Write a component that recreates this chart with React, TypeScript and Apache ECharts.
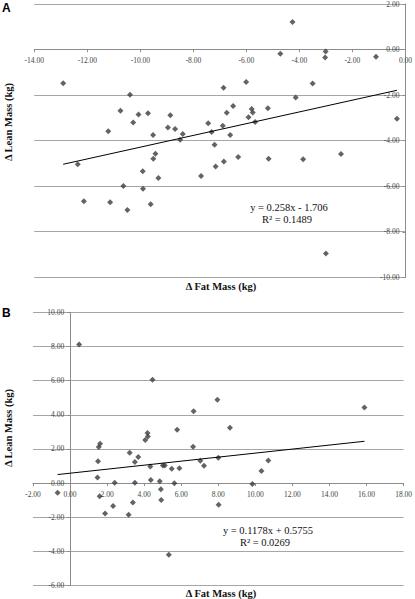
import React, { useEffect, useRef } from "react";
import * as echarts from "echarts";

// Panel A data: change in fat mass (kg) vs change in lean mass (kg)
const fatA = [
  -12.91, -10.39, -10.75, -10.07, -9.71, -8.87, -10.27, -8.96, -8.69, -11.21,
  -9.52, -8.40, -8.50, -7.44, -4.26, -4.72, -3.01, -3.03, -1.11, -6.01,
  -6.86, -3.50, -4.14, -6.50, -5.80, -6.74, -5.76, -5.19, -5.92, -5.67,
  -6.89, -7.31, -6.61, -7.20, -0.32, -12.36, -9.43, -9.51, -9.91, -9.32,
  -7.71, -10.64, -9.90, -12.13, -11.14, -10.49, -9.61, -7.16, -6.85, -6.31,
  -5.16, -3.86, -2.43, -3.00,
];
const leanA = [
  -1.48, -1.99, -2.69, -2.85, -2.80, -2.89, -3.20, -3.42, -3.49, -3.59,
  -3.75, -3.71, -3.96, -3.24, 1.21, -0.18, -0.09, -0.35, -0.32, -1.42,
  -1.68, -1.49, -2.10, -2.48, -2.61, -2.78, -2.76, -2.58, -2.97, -3.18,
  -3.35, -3.62, -3.75, -4.18, -3.04, -5.04, -4.57, -4.79, -5.34, -5.64,
  -5.55, -5.99, -6.11, -6.66, -6.70, -7.04, -6.79, -5.14, -4.92, -4.72,
  -4.79, -4.82, -4.59, -8.95,
];

// Panel B data
const fatB = [
  0.49, 4.45, 6.67, 5.78, 4.18, 4.20, 4.06, 1.62, 1.55, 6.64,
  7.95, 15.89, 8.63, 3.22, 3.68, 3.50, 1.51, 4.33, 5.01, 5.11,
  5.49, 5.90, 7.03, 7.23, 1.48, 2.41, 3.50, 4.36, 4.84, 5.63,
  -0.67, 1.60, 4.90, 4.92, 3.39, 2.32, 1.89, 3.16, 5.33, 8.00,
  10.70, 10.33, 9.84, 8.02,
];
const leanB = [
  8.12, 6.05, 4.21, 3.12, 2.93, 2.73, 2.52, 2.30, 2.11, 2.13,
  4.88, 4.43, 3.24, 1.78, 1.52, 1.23, 1.27, 0.97, 1.03, 1.03,
  0.84, 0.86, 1.31, 1.01, 0.33, 0.02, 0.02, 0.17, 0.11, -0.02,
  -0.57, -0.77, -0.36, -1.00, -1.14, -1.35, -1.78, -1.86, -4.20, 1.48,
  1.32, 0.70, -0.06, -1.27,
];

// Trend lines (from the printed regression equations)
const slopeA = 0.258;
const interceptA = -1.706;
const slopeB = 0.1178;
const interceptB = 0.5755;
const equationA = ["y = 0.258x - 1.706", "R² = 0.1489"];
const equationB = ["y = 0.1178x + 0.5755", "R² = 0.0269"];

// Axis ranges
const xRangeA = [-14, 0];
const yRangeA = [-10, 2];
const xRangeB = [-2, 18];
const yRangeB = [-6, 10];
const tickStep = 2;

const panelLabels = ["A", "B"];
const xTitle = "Δ Fat Mass (kg)";
const yTitle = "Δ Lean Mass (kg)";

const zip = (xs: number[], ys: number[]) => xs.map((x, i) => [x, ys[i]]);
const trend = (xs: number[], m: number, b: number) => {
  const lo = Math.min(...xs);
  const hi = Math.max(...xs);
  return [
    [lo, m * lo + b],
    [hi, m * hi + b],
  ];
};

const SERIF = "'Liberation Serif', 'Times New Roman', serif";
const labelStyle = { fontFamily: SERIF, fontSize: 7.5, color: "#444" };
const gridColor = "#a6a6a6";
const axisColor = "#8c8c8c";
const markerColor = "#3c3c3c";

// grid geometry
const gridA = { left: 34.3, top: 3.6, width: 372, height: 273.7 };
const gridB = { left: 33, top: 312.4, width: 372, height: 273 };

// pixel offset of the zero value inside a grid (for axis crossing at zero)
const zeroFromBottom = (g: any, r: number[]) => (g.height * (0 - r[0])) / (r[1] - r[0]);
const zeroFromLeft = (g: any, r: number[]) => (g.width * (0 - r[0])) / (r[1] - r[0]);

function makeX(gridIndex: number, range: number[], offset: number) {
  return {
    type: "value",
    gridIndex,
    position: "bottom",
    offset,
    min: range[0],
    max: range[1],
    interval: tickStep,
    axisLine: { show: true, onZero: false, lineStyle: { color: axisColor, width: 1 } },
    axisTick: { show: true, length: 3, lineStyle: { color: axisColor } },
    splitLine: { show: false },
    axisLabel: {
      ...labelStyle,
      margin: 7,
      formatter: (v: number) => v.toFixed(2),
    },
  };
}

function makeY(gridIndex: number, range: number[], position: string, offset: number, inside: boolean) {
  return {
    type: "value",
    gridIndex,
    position,
    offset,
    min: range[0],
    max: range[1],
    interval: tickStep,
    axisLine: { show: true, onZero: false, lineStyle: { color: axisColor, width: 1 } },
    axisTick: { show: true, length: 3, inside, lineStyle: { color: axisColor } },
    splitLine: { show: true, lineStyle: { color: gridColor, width: 1 } },
    axisLabel: {
      ...labelStyle,
      inside,
      margin: 6,
      formatter: (v: number) => v.toFixed(2),
    },
  };
}

export default function App() {
  const ref = useRef<HTMLDivElement>(null);

  useEffect(() => {
    if (!ref.current) return;
    const chart = echarts.init(ref.current, null, { renderer: "svg" });

    const scatterStyle = {
      type: "scatter",
      symbol: "diamond",
      symbolSize: 6,
      itemStyle: { color: markerColor },
    };
    const lineStyle = {
      type: "line",
      showSymbol: false,
      symbol: "none",
      lineStyle: { color: "#000", width: 1 },
    };

    const eqText = (x: number, y: number, text: string) => ({
      type: "text",
      x,
      y,
      style: {
        text,
        fontFamily: SERIF,
        fontSize: 10.5,
        fill: "#111",
        textAlign: "center",
        textVerticalAlign: "middle",
      },
    });
    const titleText = (x: number, y: number, text: string, rotate = false) => ({
      type: "text",
      x,
      y,
      rotation: rotate ? Math.PI / 2 : 0,
      style: {
        text,
        fontFamily: SERIF,
        fontSize: 10.5,
        fontWeight: "bold",
        fill: "#111",
        textAlign: "center",
        textVerticalAlign: "middle",
      },
    });
    const panelText = (x: number, y: number, text: string) => ({
      type: "text",
      x,
      y,
      style: {
        text,
        fontFamily: "'Liberation Sans', Arial, sans-serif",
        fontSize: 12,
        fontWeight: "bold",
        fill: "#000",
        textAlign: "left",
        textVerticalAlign: "middle",
      },
    });

    // A: x axis crosses at y=0, y axis at x=0 (right edge)
    const xOffA = -zeroFromBottom(gridA, yRangeA);
    const yOffA = -(gridA.width - zeroFromLeft(gridA, xRangeA));
    // B: x axis crosses at y=0, y axis at x=0
    const xOffB = -zeroFromBottom(gridB, yRangeB);
    const yOffB = -zeroFromLeft(gridB, xRangeB);

    chart.setOption({
      animation: false,
      backgroundColor: "#fff",
      grid: [gridA, gridB],
      xAxis: [makeX(0, xRangeA, xOffA), makeX(1, xRangeB, xOffB)],
      yAxis: [
        makeY(0, yRangeA, "right", yOffA, true),
        makeY(1, yRangeB, "left", yOffB, false),
      ],
      series: [
        { ...scatterStyle, xAxisIndex: 0, yAxisIndex: 0, data: zip(fatA, leanA) },
        { ...lineStyle, xAxisIndex: 0, yAxisIndex: 0, data: trend(fatA, slopeA, interceptA) },
        { ...scatterStyle, xAxisIndex: 1, yAxisIndex: 1, data: zip(fatB, leanB) },
        { ...lineStyle, xAxisIndex: 1, yAxisIndex: 1, data: trend(fatB, slopeB, interceptB) },
      ],
      graphic: [
        panelText(2, 8, panelLabels[0]),
        panelText(2, 313, panelLabels[1]),
        titleText(8, 122, yTitle, true),
        titleText(8, 428, yTitle, true),
        titleText(221, 286, xTitle),
        titleText(221, 593, xTitle),
        eqText(289, 207, equationA[0]),
        eqText(287, 219, equationA[1]),
        eqText(268, 530, equationB[0]),
        eqText(265, 542, equationB[1]),
      ],
    });

    return () => chart.dispose();
  }, []);

  return (
    <div
      ref={ref}
      style={{ position: "fixed", left: 0, top: 0, width: 415, height: 599, background: "#fff" }}
    />
  );
}
